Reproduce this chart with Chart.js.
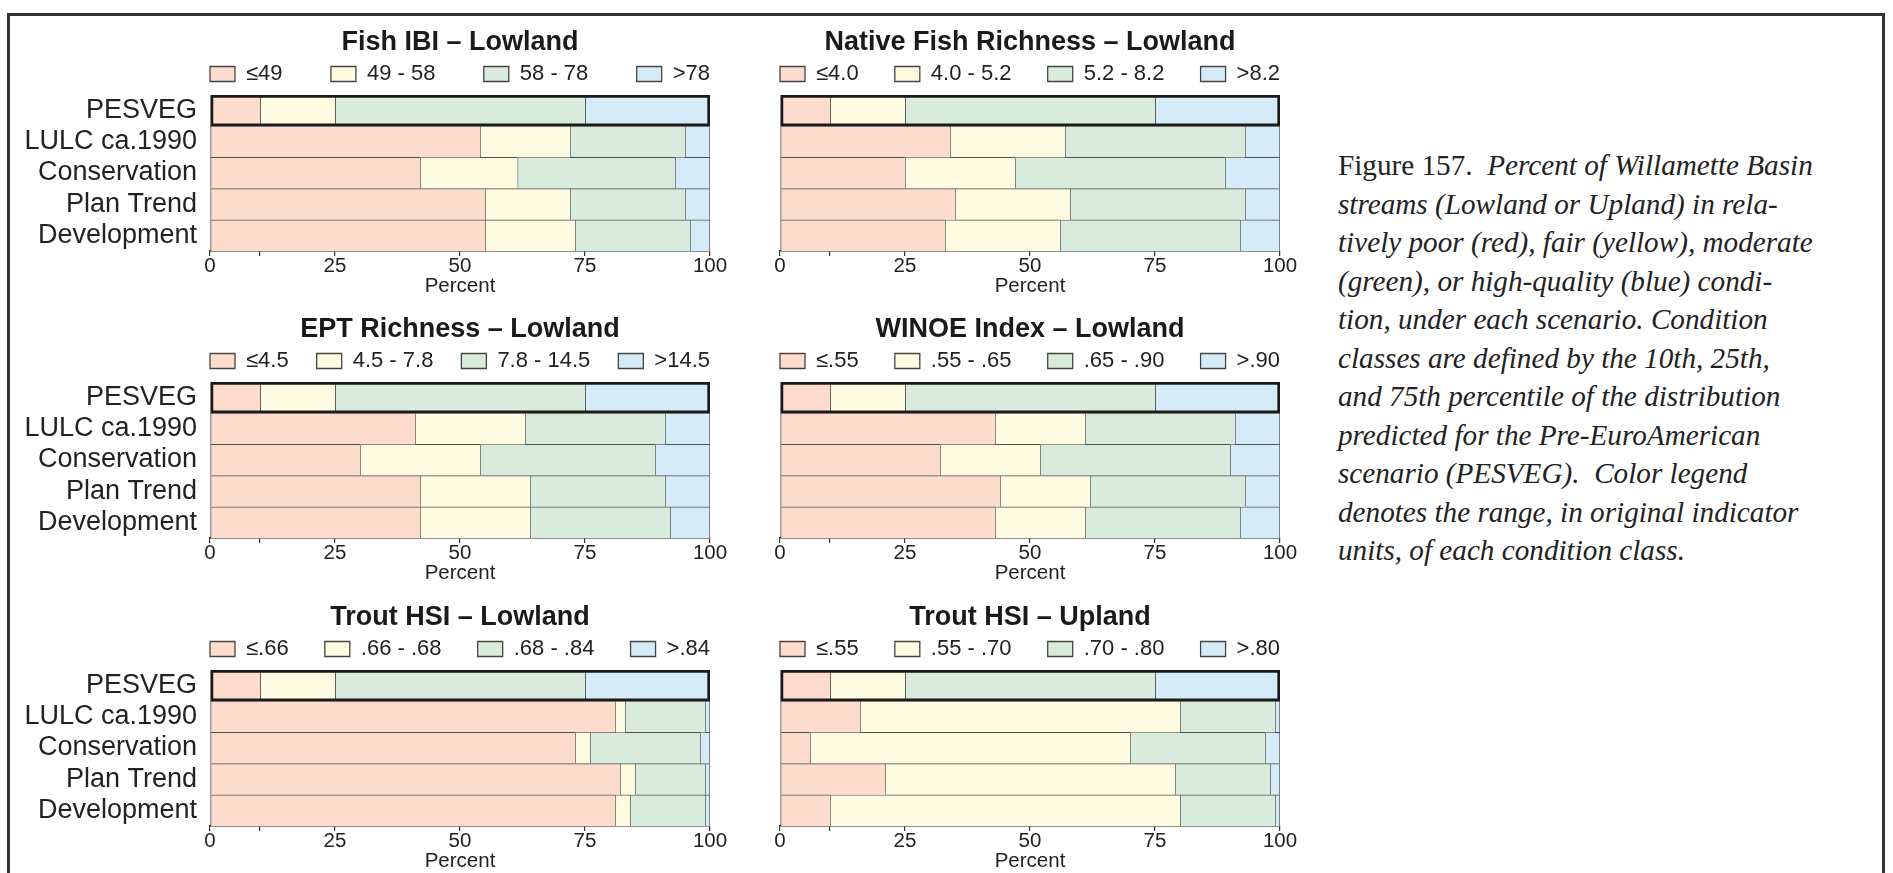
<!DOCTYPE html>
<html><head><meta charset="utf-8">
<script src="https://cdn.jsdelivr.net/npm/chart.js@4.4.1/dist/chart.umd.min.js"></script>
<style>
html,body{margin:0;padding:0;background:#fff;width:1893px;height:873px;overflow:hidden;position:relative;}
#frame{position:absolute;left:7px;top:13px;width:1878px;height:900px;box-sizing:border-box;border:3px solid #333;}
canvas{position:absolute;}
#caption{position:absolute;left:1338px;top:146px;font-family:'Liberation Serif','Times New Roman',serif;font-size:29.2px;line-height:38.5px;color:#222;font-style:italic;white-space:nowrap;}
#caption .r{font-style:normal;}
</style></head><body>
<div id="frame"></div>
<div id="caption"><span class="r">Figure 157.&nbsp; </span>Percent of Willamette Basin<br>streams (Lowland or Upland) in rela-<br>tively poor (red), fair (yellow), moderate<br>(green), or high-quality (blue) condi-<br>tion, under each scenario. Condition<br>classes are defined by the 10th, 25th,<br>and 75th percentile of the distribution<br>predicted for the Pre-EuroAmerican<br>scenario (PESVEG).&nbsp; Color legend<br>denotes the range, in original indicator<br>units, of each condition class.</div>
<script>
// ---------- data ----------
const scenarios = ['PESVEG', 'LULC ca.1990', 'Conservation', 'Plan Trend', 'Development'];
const xTickValues = [0, 10, 25, 50, 75, 100];
const xTickLabels = ['0', '', '25', '50', '75', '100'];
const axisTitle = 'Percent';

const fishIbiTitle = 'Fish IBI – Lowland';
const fishIbiClasses = ['≤49', '49 - 58', '58 - 78', '>78'];
const fishIbiPoor = [10, 54, 42, 55, 55];
const fishIbiFair = [15, 18, 19.5, 17, 18];
const fishIbiModerate = [50, 23, 31.5, 23, 23];
const fishIbiHigh = [25, 5, 7, 5, 4];

const nativeTitle = 'Native Fish Richness – Lowland';
const nativeClasses = ['≤4.0', '4.0 - 5.2', '5.2 - 8.2', '>8.2'];
const nativePoor = [10, 34, 25, 35, 33];
const nativeFair = [15, 23, 22, 23, 23];
const nativeModerate = [50, 36, 42, 35, 36];
const nativeHigh = [25, 7, 11, 7, 8];

const eptTitle = 'EPT Richness – Lowland';
const eptClasses = ['≤4.5', '4.5 - 7.8', '7.8 - 14.5', '>14.5'];
const eptPoor = [10, 41, 30, 42, 42];
const eptFair = [15, 22, 24, 22, 22];
const eptModerate = [50, 28, 35, 27, 28];
const eptHigh = [25, 9, 11, 9, 8];

const winoeTitle = 'WINOE Index – Lowland';
const winoeClasses = ['≤.55', '.55 - .65', '.65 - .90', '>.90'];
const winoePoor = [10, 43, 32, 44, 43];
const winoeFair = [15, 18, 20, 18, 18];
const winoeModerate = [50, 30, 38, 31, 31];
const winoeHigh = [25, 9, 10, 7, 8];

const troutLowTitle = 'Trout HSI – Lowland';
const troutLowClasses = ['≤.66', '.66 - .68', '.68 - .84', '>.84'];
const troutLowPoor = [10, 81, 73, 82, 81];
const troutLowFair = [15, 2, 3, 3, 3];
const troutLowModerate = [50, 16, 22, 14, 15];
const troutLowHigh = [25, 1, 2, 1, 1];

const troutUpTitle = 'Trout HSI – Upland';
const troutUpClasses = ['≤.55', '.55 - .70', '.70 - .80', '>.80'];
const troutUpPoor = [10, 16, 6, 21, 10];
const troutUpFair = [15, 64, 64, 58, 70];
const troutUpModerate = [50, 19, 27, 19, 19];
const troutUpHigh = [25, 1, 3, 2, 1];

// ---------- panels built from the arrays ----------
const panels = [
  {title: fishIbiTitle, classes: fishIbiClasses, series: [fishIbiPoor, fishIbiFair, fishIbiModerate, fishIbiHigh]},
  {title: nativeTitle, classes: nativeClasses, series: [nativePoor, nativeFair, nativeModerate, nativeHigh]},
  {title: eptTitle, classes: eptClasses, series: [eptPoor, eptFair, eptModerate, eptHigh]},
  {title: winoeTitle, classes: winoeClasses, series: [winoePoor, winoeFair, winoeModerate, winoeHigh]},
  {title: troutLowTitle, classes: troutLowClasses, series: [troutLowPoor, troutLowFair, troutLowModerate, troutLowHigh]},
  {title: troutUpTitle, classes: troutUpClasses, series: [troutUpPoor, troutUpFair, troutUpModerate, troutUpHigh]}
];

// ---------- styling / layout ----------
const FAMILY = "'Liberation Sans', Arial, Helvetica, sans-serif";
const FILLS = ['#fddccd', '#fffbe1', '#d8ebdd', '#d5ebf8'];
const EDGE = '#505050';
const FRAME_EDGE = '#1a1a1a';
const PLOT_W = 500;
const LEG_FONT = 22;
const BOX_W = 25;
const CANVAS_H = 300;
const positions = [
  {left: 10, top: 0, w: 900, axisW: 200, labels: true},
  {left: 720, top: 0, w: 620, axisW: 60, labels: false},
  {left: 10, top: 287, w: 900, axisW: 200, labels: true},
  {left: 720, top: 287, w: 620, axisW: 60, labels: false},
  {left: 10, top: 575, w: 900, axisW: 200, labels: true},
  {left: 720, top: 575, w: 620, axisW: 60, labels: false}
];

Chart.defaults.font.family = FAMILY;
Chart.defaults.color = '#222';

const measureCtx = document.createElement('canvas').getContext('2d');
measureCtx.font = LEG_FONT + 'px ' + FAMILY;

// the reference row (first category) gets a heavy frame around the whole stacked bar
function segmentBorder(seriesIndex, nSeries) {
  return (ctx) => {
    const first = seriesIndex === 0, last = seriesIndex === nSeries - 1;
    if (ctx.dataIndex === 0) {
      return {top: 3, bottom: 3, left: first ? 3 : 1, right: last ? 3 : 0};
    }
    return {top: 1, bottom: 0, left: 1, right: last ? 1 : 0};
  };
}

function makeChart(panel, pos) {
  const cv = document.createElement('canvas');
  cv.width = pos.w; cv.height = CANVAS_H;
  cv.style.left = pos.left + 'px'; cv.style.top = pos.top + 'px';
  cv.style.width = pos.w + 'px'; cv.style.height = CANVAS_H + 'px';
  document.body.appendChild(cv);

  const itemsW = panel.classes.reduce((s, t) => s + BOX_W + LEG_FONT / 2 + measureCtx.measureText(t).width, 0);
  const legPad = (PLOT_W - itemsW) / 3;
  const legTop = 74 - legPad - LEG_FONT / 2;
  const titleTopPad = 26.3;
  const titleBottomPad = legTop - 27 * 1.2 - titleTopPad;

  const datasets = panel.series.map((vals, i) => ({
    label: panel.classes[i],
    data: vals,
    backgroundColor: FILLS[i],
    borderColor: (ctx) => ctx.dataIndex === 0 ? FRAME_EDGE : EDGE,
    borderWidth: segmentBorder(i, panel.series.length),
    borderSkipped: false,
    barPercentage: 1,
    categoryPercentage: 1,
    stack: 'classes'
  }));

  new Chart(cv, {
    type: 'bar',
    data: {labels: scenarios, datasets},
    options: {
      indexAxis: 'y',
      responsive: false,
      animation: false,
      devicePixelRatio: 1,
      layout: {padding: {top: 0, bottom: 3, left: 0, right: 0}},
      scales: {
        x: {
          type: 'linear', min: 0, max: 100, stacked: true, position: 'bottom',
          afterBuildTicks: s => { s.ticks = xTickValues.map(v => ({value: v})); },
          ticks: {autoSkip: false, maxRotation: 0, padding: 0, font: {size: 20.5, lineHeight: 1}, color: '#222',
                  callback: (v, i) => xTickLabels[i]},
          grid: {drawOnChartArea: false, drawTicks: true, tickLength: 5, color: '#333', lineWidth: 1.2},
          border: {display: true, color: '#222', width: 1.5},
          title: {display: true, text: axisTitle, font: {size: 20.5, lineHeight: 1}, padding: {top: 0, bottom: 0}, color: '#222'}
        },
        y: {
          type: 'category', position: 'left', offset: true, stacked: true,
          grid: {display: false, drawTicks: false}, border: {display: false},
          ticks: {display: pos.labels, autoSkip: false, padding: 13, font: {size: 27, lineHeight: 1}, color: '#222'},
          afterFit: s => { s.width = pos.axisW; }
        },
        yR: {
          type: 'linear', axis: 'y', position: 'right', display: true,
          grid: {display: false, drawTicks: false}, border: {display: false},
          ticks: {display: false},
          afterFit: s => { s.width = pos.axisW; }
        }
      },
      plugins: {
        tooltip: {enabled: false},
        title: {display: true, text: panel.title, color: '#1a1a1a',
                font: {size: 27, weight: 'bold', lineHeight: 1.2},
                padding: {top: titleTopPad, bottom: titleBottomPad}},
        legend: {
          display: true, position: 'top', align: 'center',
          labels: {
            boxWidth: BOX_W, boxHeight: 15, padding: legPad, color: '#222',
            font: {size: LEG_FONT},
            generateLabels: (chart) => Chart.defaults.plugins.legend.labels.generateLabels(chart)
              .map(l => Object.assign(l, {lineWidth: 1.3, strokeStyle: '#444'}))
          }
        }
      }
    }
  });
}

panels.forEach((p, i) => makeChart(p, positions[i]));
</script>
</body></html>
